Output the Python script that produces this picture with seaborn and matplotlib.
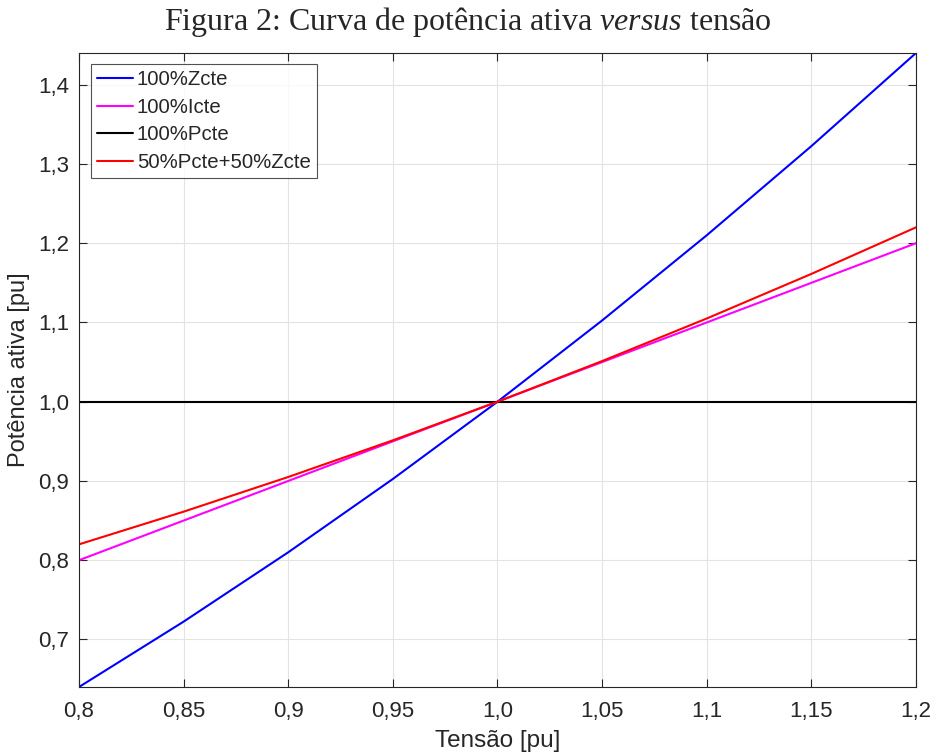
import matplotlib
matplotlib.use("Agg")
import matplotlib.pyplot as plt
import seaborn as sns
import pandas as pd

# Data
tensao = [0.80, 0.85, 0.90, 0.95, 1.00, 1.05, 1.10, 1.15, 1.20]
z_cte = [0.64, 0.7225, 0.81, 0.9025, 1.00, 1.1025, 1.21, 1.3225, 1.44]
i_cte = [0.80, 0.85, 0.90, 0.95, 1.00, 1.05, 1.10, 1.15, 1.20]
p_cte = [1.00, 1.00, 1.00, 1.00, 1.00, 1.00, 1.00, 1.00, 1.00]
pz_mix = [0.82, 0.86125, 0.905, 0.95125, 1.00, 1.05125, 1.105, 1.16125, 1.22]

series_names = ["100%Zcte", "100%Icte", "100%Pcte", "50%Pcte+50%Zcte"]
series_colors = ["#0000ff", "#ff00ff", "#000000", "#ff0000"]

xticks = [0.80, 0.85, 0.90, 0.95, 1.00, 1.05, 1.10, 1.15, 1.20]
xticklabels = ["0,8", "0,85", "0,9", "0,95", "1,0", "1,05", "1,1", "1,15", "1,2"]
yticks = [0.7, 0.8, 0.9, 1.0, 1.1, 1.2, 1.3, 1.4]
yticklabels = ["0,7", "0,8", "0,9", "1,0", "1,1", "1,2", "1,3", "1,4"]

rows = []
for name, vals in zip(series_names, [z_cte, i_cte, p_cte, pz_mix]):
    for x, y in zip(tensao, vals):
        rows.append({"Tensão": x, "Potência": y, "Série": name})
df = pd.DataFrame(rows)

sns.set_theme(style="white")
plt.rcParams["font.family"] = ["Liberation Sans", "DejaVu Sans"]
plt.rcParams["mathtext.fontset"] = "custom"
plt.rcParams["mathtext.rm"] = "Liberation Serif"
plt.rcParams["mathtext.it"] = "Liberation Serif:italic"

fig = plt.figure(figsize=(9.36, 7.55), dpi=100)
ax = fig.add_axes([79 / 936, 1 - 687 / 755, (916 - 79) / 936, (687 - 53) / 755])

sns.lineplot(data=df, x="Tensão", y="Potência", hue="Série",
             hue_order=series_names, palette=series_colors,
             linewidth=1.5, ax=ax, sort=True, estimator=None)

ax.set_xlim(0.8, 1.2)
ax.set_ylim(0.64, 1.44)
ax.set_xticks(xticks)
ax.set_xticklabels(xticklabels)
ax.set_yticks(yticks)
ax.set_yticklabels(yticklabels)
ax.tick_params(axis="both", which="both", direction="in", length=6, width=0.8,
               colors="#262626", labelsize=16, top=True, right=True,
               bottom=True, left=True)
ax.tick_params(axis="x", pad=10)
ax.tick_params(axis="y", pad=7)
for lab in ax.get_xticklabels() + ax.get_yticklabels():
    lab.set_color("#262626")
ax.grid(True, color="#e3e3e3", linewidth=0.8)
for sp in ax.spines.values():
    sp.set_color("#262626")
    sp.set_linewidth(0.8)

ax.set_xlabel("Tensão [pu]", fontsize=17.5, color="#262626", labelpad=6)
ax.set_ylabel("Potência ativa [pu]", fontsize=17, color="#262626", labelpad=6)

leg = ax.legend(loc="upper left", bbox_to_anchor=(12 / 837, 1 - 11 / 634), fontsize=14.7,
                frameon=True, fancybox=False, edgecolor="#262626",
                handlelength=1.75, handletextpad=0.2, labelspacing=0.42,
                borderpad=0.3, borderaxespad=0)
leg.get_frame().set_linewidth(0.8)

fig.text(0.5, 1 - 22 / 755,
         r"Figura 2: Curva de potência ativa $\mathit{versus}$ tensão",
         ha="center", va="center", fontsize=23, family="Liberation Serif")

fig.savefig("out.png", dpi=100)
